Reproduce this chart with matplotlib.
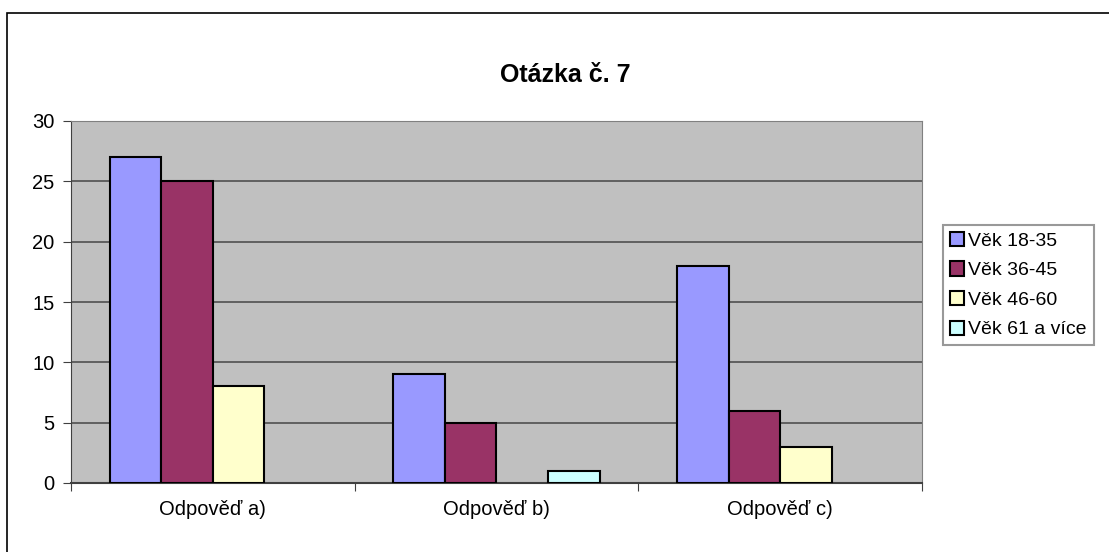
import numpy as np
import matplotlib.pyplot as plt
from matplotlib.patches import Rectangle, Patch

plt.rcParams['font.family'] = ['Liberation Sans', 'DejaVu Sans']

categories = ['Odpověď a)', 'Odpověď b)', 'Odpověď c)']
series_names = ['Věk 18-35', 'Věk 36-45', 'Věk 46-60', 'Věk 61 a více']
values = [
    [27, 9, 18],
    [25, 5, 6],
    [8, 0, 3],
    [0, 1, 0],
]
colors = ['#9999FF', '#993366', '#FFFFCC', '#CCFFFF']

W, H = 1109, 552
fig = plt.figure(figsize=(W / 100, H / 100), dpi=100)
fig.patch.set_facecolor('white')

# chart frame (cropped on right/bottom like the reference)
fig.add_artist(Rectangle((7 / W, -0.1), 1.2, 1 - 13 / H + 0.1, transform=fig.transFigure,
                         fill=False, edgecolor='black', linewidth=1.2))

ax = fig.add_axes([71 / W, 1 - 483 / H, (922 - 71) / W, (483 - 121) / H])
ax.set_facecolor('#C0C0C0')

x = np.arange(len(categories))
w = 1 / 5.5
for i, (name, vals) in enumerate(zip(series_names, values)):
    bars = ax.bar(x + (i - 1.5) * w, vals, width=w, color=colors[i], edgecolor='black',
                  linewidth=1.5, zorder=3)
    # excel doesn't draw empty bars
    for b, v in zip(bars, vals):
        if v == 0:
            b.set_visible(False)

ax.set_xlim(-0.5, 2.5)
ax.set_ylim(0, 30)
ax.set_yticks(range(0, 31, 5))
ax.yaxis.grid(True, color='#505050', linewidth=1.2, zorder=1)
ax.set_axisbelow(True)

ax.set_xticks([-0.5, 0.5, 1.5, 2.5])
ax.set_xticklabels([])
ax.set_xticks(x, minor=True)
ax.set_xticklabels(categories, minor=True)
ax.tick_params(axis='x', which='minor', length=0, pad=12, labelsize=14.5)
ax.tick_params(axis='x', which='major', length=6, color='#404040')
ax.tick_params(axis='y', length=6, color='#404040', labelsize=14.5, pad=6)

for side in ['top', 'right']:
    ax.spines[side].set_color('#808080')
ax.spines['left'].set_color('#404040')
ax.spines['bottom'].set_color('#404040')
ax.spines['bottom'].set_linewidth(1.5)

fig.text(565 / W, 1 - 75 / H, 'Otázka č. 7', ha='center', va='center',
         fontsize=18, fontweight='bold')

handles = [Patch(facecolor=c, edgecolor='black', linewidth=1.5) for c in colors]
leg = fig.legend(handles, series_names, loc='upper left', bbox_to_anchor=(943 / W, 1 - 225 / H),
                 frameon=True, fancybox=False, fontsize=14, handlelength=0.75,
                 handleheight=0.75, handletextpad=0.2, borderpad=0.35,
                 labelspacing=0.6, borderaxespad=0)
leg.get_frame().set_edgecolor('#808080')
leg.get_frame().set_linewidth(1.5)

fig.savefig('out.png', dpi=100)
